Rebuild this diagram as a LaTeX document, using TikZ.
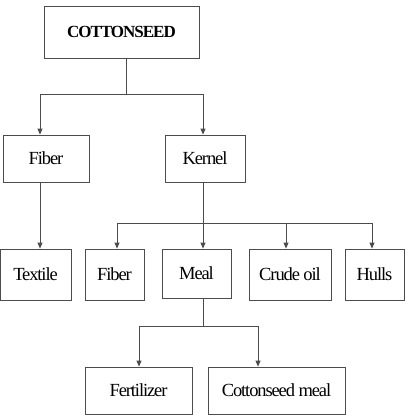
\documentclass[tikz,border=0pt]{standalone}
\usepackage{fontspec}
\setmainfont[LetterSpace=-6]{Liberation Serif}
\usepackage{tikz}
\usetikzlibrary{
    arrows.meta,
    calc,
    positioning
}
\tikzset{
    box/.style={draw=black!70, line width=0.8pt, inner sep=0pt,
        font=\fontsize{18.5}{20}\selectfont, minimum height=47},
    link/.style={draw=black!70, line width=0.8pt},
    arrow/.style={link, -{Triangle[length=6pt, width=5pt]}}
}

\begin{document}
\begin{tikzpicture}[x=1pt, y=-1pt]
    \useasboundingbox (0, 0) rectangle (407, 418);
    \node[box, minimum width=155, minimum height=52, font=\fontsize{17}{18}\selectfont\bfseries] (seed) at (121.5, 32) {COTTONSEED};
    \node[box, minimum width=86] (fiber) at (46, 158.5) {Fiber};
    \node[box, minimum width=80] (kernel) at (205, 158.5) {Kernel};
    \node[box, minimum width=71, minimum height=51] (textile) at (35.5, 274.5) {Textile};
    \node[box, minimum width=59, minimum height=51] (fiber2) at (114.5, 274.5) {Fiber};
    \node[box, minimum width=69, minimum height=49] (meal) at (196.5, 273.5) {Meal};
    \node[box, minimum width=82, minimum height=51] (crude) at (290, 274.5) {Crude oil};
    \node[box, minimum width=59, minimum height=51] (hulls) at (374.5, 274.5) {Hulls};
    \node[box, minimum width=107] (fert) at (138.5, 390.5) {Fertilizer};
    \node[box, minimum width=137] (cmeal) at (276.5, 390.5) {Cottonseed meal};
    \coordinate (j1) at (126, 94);
    \coordinate (j2) at (203, 223);
    \coordinate (j3) at (203, 326);
    % seed splits into fiber and kernel
    \draw[link] (seed.south -| j1) -- (j1);
    \draw[arrow] (j1) -| ([xshift=-6]fiber.north);
    \draw[arrow] (j1) -| ([xshift=-2]kernel.north);
    \draw[arrow] ([xshift=-6]fiber.south) -- ([xshift=-6]fiber.south |- textile.north);
    % kernel products
    \draw[arrow] (kernel.south -| j2) -- (meal.north -| j2);
    \draw[link] ([xshift=2.5]j2 -| fiber2.north) -- ([xshift=-2.5]j2 -| hulls.north);
    \foreach \n/\dx in {fiber2/2.5, crude/-4, hulls/-2.5}
        \draw[arrow] ([xshift=\dx]j2 -| \n.north) -- ([xshift=\dx]\n.north);
    % meal products
    \draw[link] (meal.south -| j3) -- (j3);
    \draw[arrow] (j3) -| ([xshift=0.5]fert.north);
    \draw[arrow] (j3) -| ([xshift=-18.5]cmeal.north);
\end{tikzpicture}
\end{document}
